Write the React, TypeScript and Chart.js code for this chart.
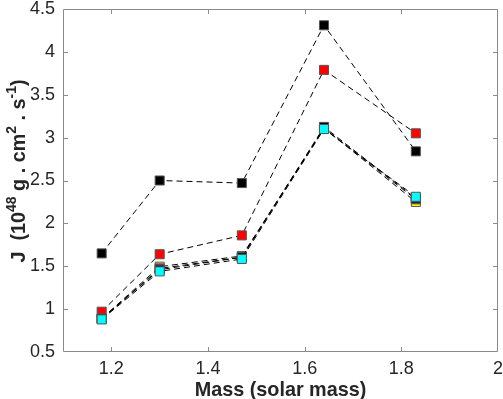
import React, { useEffect, useRef } from "react";
import { Chart, registerables } from "chart.js";

Chart.register(...registerables);

const masses = [1.18, 1.3, 1.47, 1.64, 1.83];
const seriesBlack = [1.65, 2.5, 2.47, 4.31, 2.84];
const seriesRed = [0.97, 1.64, 1.86, 3.79, 3.05];
const seriesYellow = [0.89, 1.495, 1.62, 3.11, 2.25];
const seriesPurple = [0.885, 1.475, 1.605, 3.11, 2.28];
const seriesBlack2 = [0.89, 1.46, 1.605, 3.125, 2.29];
const seriesCyan = [0.88, 1.44, 1.585, 3.1, 2.31];
const xTicks = [1.2, 1.4, 1.6, 1.8, 2];
const yTicks = [0.5, 1, 1.5, 2, 2.5, 3, 3.5, 4, 4.5];
const xTitle = "Mass (solar mass)";
const yTitleParts: { t: string; sup: boolean }[] = [
  { t: "J  (10", sup: false },
  { t: "48", sup: true },
  { t: " g . cm", sup: false },
  { t: "2", sup: true },
  { t: " . s", sup: false },
  { t: "-1", sup: true },
  { t: ")", sup: false },
];

const FONT = "'Liberation Sans', Arial, Helvetica, sans-serif";
const TEXT = "#262626";
const AXIS = "#8a8a8a";

const boxPlugin = {
  id: "boxTicks",
  afterDraw(chart: any) {
    const { ctx, chartArea } = chart;
    const { left, right, top, bottom } = chartArea;
    const xs = chart.scales.x;
    const ys = chart.scales.y;
    ctx.save();
    ctx.strokeStyle = AXIS;
    ctx.lineWidth = 1;
    ctx.beginPath();
    ctx.rect(Math.round(left) + 0.5, Math.round(top) + 0.5, Math.round(right - left) - 1, Math.round(bottom - top) - 1);
    ctx.stroke();
    const tl = 5;
    ctx.beginPath();
    xs.ticks.forEach((tk: any) => {
      const px = Math.round(xs.getPixelForValue(tk.value)) + 0.5;
      if (px <= left + 1 || px >= right - 1) return;
      ctx.moveTo(px, bottom);
      ctx.lineTo(px, bottom - tl);
      ctx.moveTo(px, top);
      ctx.lineTo(px, top + tl);
    });
    ys.ticks.forEach((tk: any) => {
      const py = Math.round(ys.getPixelForValue(tk.value)) + 0.5;
      if (py <= top + 1 || py >= bottom - 1) return;
      ctx.moveTo(left, py);
      ctx.lineTo(left + tl, py);
      ctx.moveTo(right, py);
      ctx.lineTo(right - tl, py);
    });
    ctx.stroke();

    // y title with superscripts
    const mainFont = `bold 19.8px ${FONT}`;
    const supFont = `bold 14px ${FONT}`;
    let total = 0;
    yTitleParts.forEach((p) => {
      ctx.font = p.sup ? supFont : mainFont;
      total += ctx.measureText(p.t).width;
    });
    const cy = 171;
    ctx.translate(25, cy);
    ctx.rotate(-Math.PI / 2);
    ctx.fillStyle = TEXT;
    ctx.textBaseline = "alphabetic";
    ctx.textAlign = "left";
    let x = -total / 2;
    yTitleParts.forEach((p) => {
      ctx.font = p.sup ? supFont : mainFont;
      ctx.fillText(p.t, x, p.sup ? -9 : 0);
      x += ctx.measureText(p.t).width;
    });
    ctx.restore();
  },
};

function ds(label: string, data: number[], color: string) {
  return {
    label,
    data: masses.map((m, i) => ({ x: m, y: data[i] })),
    borderColor: "#000000",
    borderWidth: 1,
    borderDash: [6, 4],
    backgroundColor: color,
    pointBackgroundColor: color,
    pointBorderColor: "#555555",
    pointBorderWidth: 1,
    pointStyle: "rect",
    pointRadius: 6.4,
    pointHoverRadius: 6.4,
    fill: false,
    tension: 0,
  };
}

export default function App() {
  const ref = useRef<HTMLCanvasElement | null>(null);
  useEffect(() => {
    if (!ref.current) return;
    const chart = new Chart(ref.current, {
      type: "line",
      data: {
        datasets: [
          ds("cyan", seriesCyan, "#00ffff"),
          ds("black2", seriesBlack2, "#000000"),
          ds("purple", seriesPurple, "#a000c8"),
          ds("yellow", seriesYellow, "#ffff00"),
          ds("red", seriesRed, "#ff0000"),
          ds("black", seriesBlack, "#000000"),
        ] as any,
      },
      options: {
        animation: false,
        responsive: false,
        maintainAspectRatio: false,
        layout: { autoPadding: false, padding: { top: 9, right: 5, left: 0, bottom: 0 } },
        plugins: { legend: { display: false }, tooltip: { enabled: false } },
        scales: {
          x: {
            type: "linear",
            min: 1.1,
            max: 2,
            afterBuildTicks: (s: any) => {
              s.ticks = xTicks.map((v) => ({ value: v }));
            },
            afterFit: (s: any) => {
              s.height = 47;
              s.paddingLeft = 0;
              s.paddingRight = 0;
            },
            grid: { display: false, drawTicks: false, tickLength: 0 },
            border: { display: false },
            ticks: {
              color: TEXT,
              font: { family: FONT, size: 18 },
              padding: 6,
              maxRotation: 0,
              autoSkip: false,
              callback: (v: any) => String(v),
            },
            title: {
              display: true,
              text: xTitle,
              color: TEXT,
              font: { family: FONT, size: 19.8, weight: "bold", lineHeight: 0.9 },
              padding: { top: 0, bottom: 0 },
            },
          },
          y: {
            type: "linear",
            min: 0.5,
            max: 4.5,
            afterBuildTicks: (s: any) => {
              s.ticks = yTicks.map((v) => ({ value: v }));
            },
            afterFit: (s: any) => {
              s.width = 63;
              s.paddingTop = 0;
              s.paddingBottom = 0;
            },
            grid: { display: false, drawTicks: false, tickLength: 0 },
            border: { display: false },
            ticks: {
              color: TEXT,
              font: { family: FONT, size: 18 },
              padding: 8,
              autoSkip: false,
              callback: (v: any) => String(v),
            },
          },
        },
      } as any,
      plugins: [boxPlugin],
    });
    return () => chart.destroy();
  }, []);
  return (
    <div style={{ position: "fixed", left: 0, top: 0, width: 503, height: 399, background: "#fff" }}>
      <canvas ref={ref} width={503} height={399} style={{ width: 503, height: 399, display: "block" }} />
    </div>
  );
}
